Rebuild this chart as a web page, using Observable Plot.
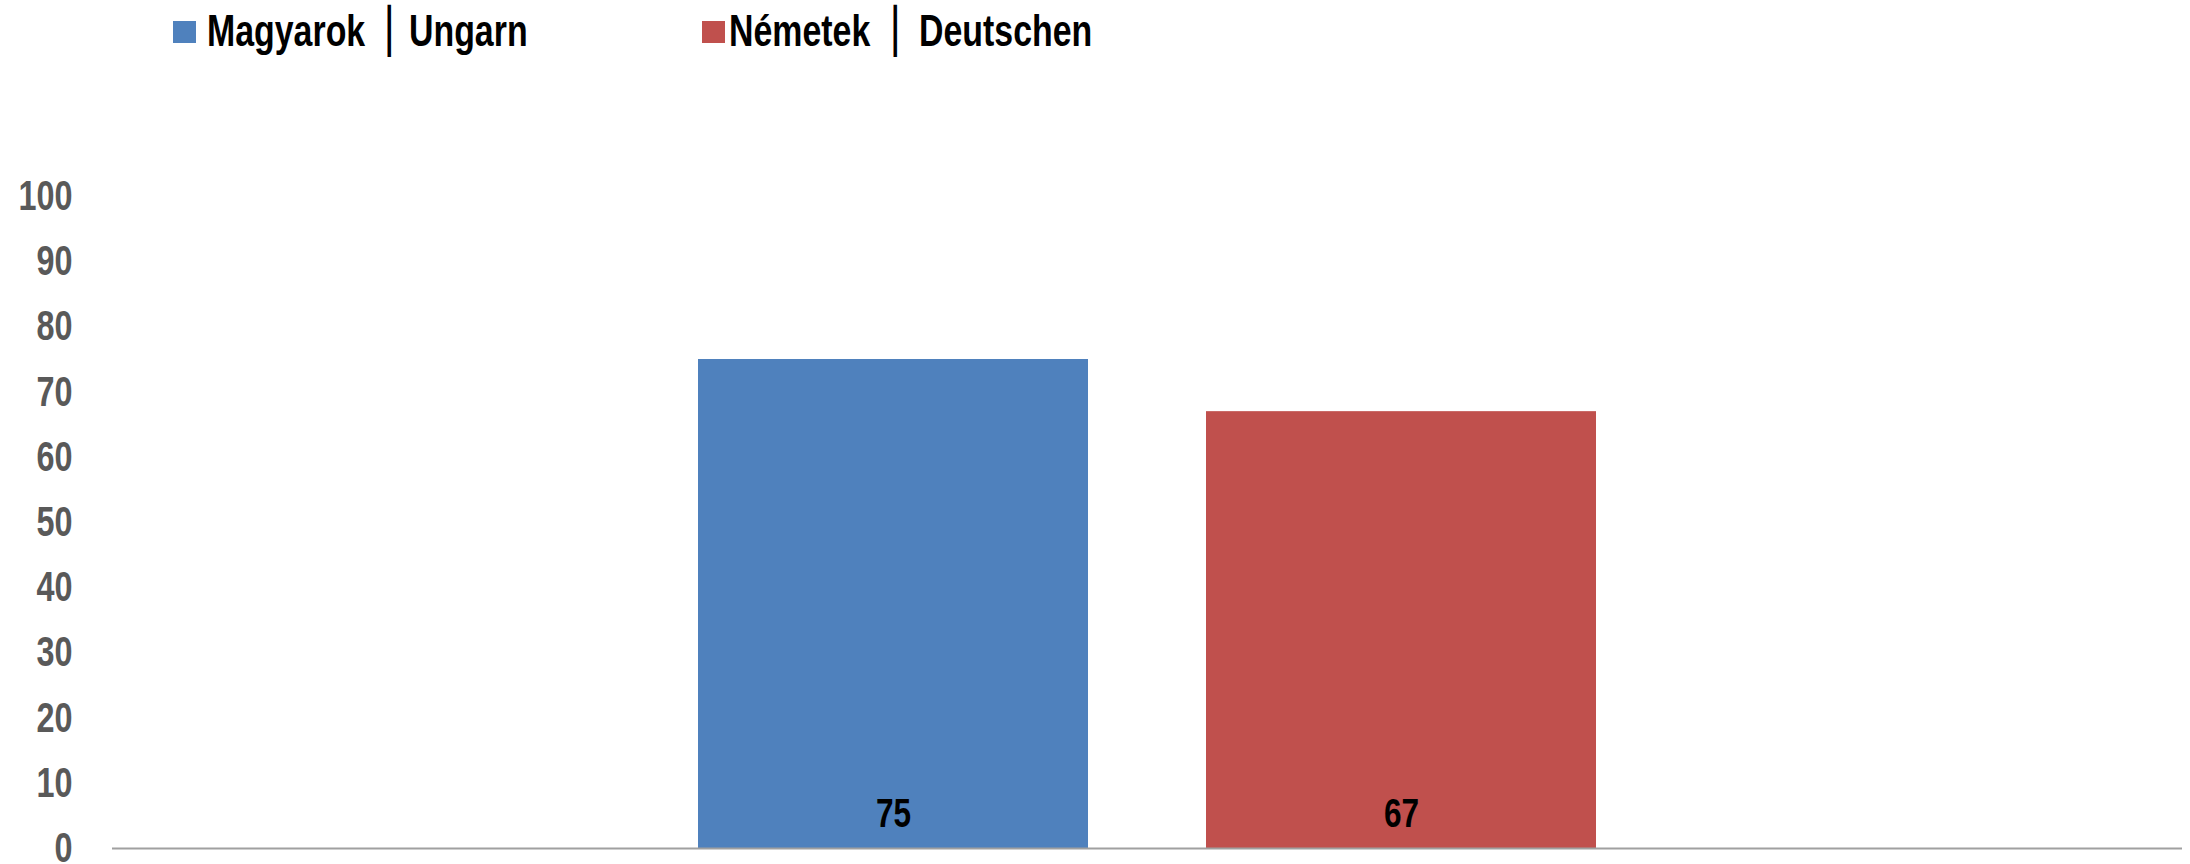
<!DOCTYPE html>
<html>
<head>
<meta charset="utf-8">
<script src="https://cdn.jsdelivr.net/npm/d3@7"></script>
<script src="https://cdn.jsdelivr.net/npm/@observablehq/plot@0.6"></script>
<style>
  html, body { margin: 0; padding: 0; background: #fff; }
  body { width: 2190px; height: 864px; overflow: hidden; }
  #legend { position: relative; height: 70px; width: 2190px; }
  #legend .sw { position: absolute; top: 21px; width: 23px; height: 22px; }
  #legend .lab { position: absolute; top: 9px; font-family: "Liberation Sans", Arial, sans-serif; font-weight: bold;
                 font-size: 44px; line-height: 44px; color: #000; white-space: pre;
                 transform: scaleX(0.77); transform-origin: 0 0; }
  #legend .sep { position: absolute; top: 5px; font-family: "DejaVu Sans", sans-serif; font-size: 44px; line-height: 52px; color: #000; }
  #chart svg { overflow: visible; }
</style>
</head>
<body>
<div id="legend"></div>
<div id="chart"></div>
<script>
// Data
const seriesHu = ["Magyarok", "Németek"];
const seriesDe = ["Ungarn", "Deutschen"];
const values = [75, 67];
const colors = ["#4F81BD", "#C0504D"];
const yTicks = [0, 10, 20, 30, 40, 50, 60, 70, 80, 90, 100];

const data = seriesHu.map((s, i) => ({ series: s, value: values[i], color: colors[i] }));

// Legend (HTML, above the SVG)
const legend = document.getElementById("legend");
const legendPos = [
  { sw: 173, hu: 207, sep: 376, de: 409 },
  { sw: 702, hu: 729, sep: 882, de: 919 }
];
seriesHu.forEach((s, i) => {
  const p = legendPos[i];
  const sw = document.createElement("div");
  sw.className = "sw"; sw.style.left = p.sw + "px"; sw.style.background = colors[i];
  legend.appendChild(sw);
  const hu = document.createElement("div");
  hu.className = "lab"; hu.style.left = p.hu + "px"; hu.textContent = s;
  legend.appendChild(hu);
  const sep = document.createElement("div");
  sep.className = "sep"; sep.style.left = p.sep + "px"; sep.textContent = "│";
  legend.appendChild(sep);
  const de = document.createElement("div");
  de.className = "lab"; de.style.left = p.de + "px"; de.textContent = seriesDe[i];
  legend.appendChild(de);
});

const chart = Plot.plot({
  width: 2190,
  height: 794,
  marginLeft: 112,
  marginRight: 8,
  marginTop: 126,
  marginBottom: 16,
  style: { fontFamily: '"Liberation Sans", Arial, sans-serif', background: "#fff" },
  x: { domain: seriesHu, paddingInner: 0.232, paddingOuter: 1.151, axis: null },
  y: { domain: [0, 100], ticks: yTicks, label: null },
  marks: [
    Plot.axisY({
      ticks: yTicks,
      tickSize: 0,
      tickPadding: 40,
      fontSize: 42,
      fontWeight: "bold",
      fill: "#595959",
      label: null
    }),
    Plot.barY(data, { x: "series", y: "value", fill: d => d.color }),
    Plot.ruleY([0], { stroke: "#a0a0a0", strokeWidth: 2 }),
    Plot.text(data, {
      x: "series",
      y: 0,
      text: d => String(d.value),
      dy: -35,
      fontSize: 41,
      fontWeight: "bold",
      fill: "#000"
    })
  ]
});
document.getElementById("chart").appendChild(chart);

// Condense the SVG texts horizontally, like the reference's narrow lettering
chart.querySelectorAll("text").forEach(t => {
  const len = t.getComputedTextLength();
  if (len > 0) {
    t.setAttribute("textLength", (len * 0.77).toFixed(1));
    t.setAttribute("lengthAdjust", "spacingAndGlyphs");
  }
});
</script>
</body>
</html>
